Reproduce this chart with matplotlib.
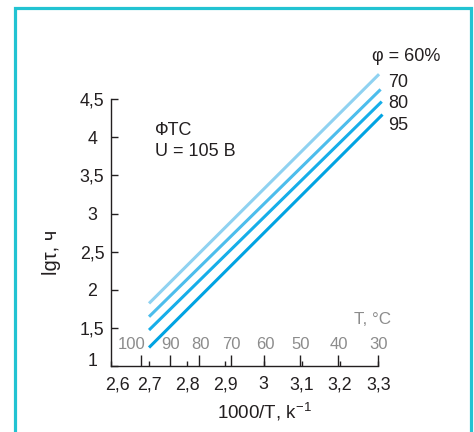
import matplotlib
matplotlib.use("Agg")
import matplotlib.pyplot as plt
import matplotlib.transforms as mtransforms
from matplotlib.patches import Rectangle

plt.rcParams["font.family"] = ["Liberation Sans", "DejaVu Sans"]
plt.rcParams["mathtext.fontset"] = "custom"
plt.rcParams["mathtext.rm"] = "Liberation Sans"
plt.rcParams["mathtext.it"] = "Liberation Sans"

# дані
inv_t_60 = [2.70, 3.302]
inv_t_70 = [2.70, 3.306]
inv_t_80 = [2.70, 3.309]
inv_t_95 = [2.70, 3.311]
lg_60 = [1.82, 4.83]
lg_70 = [1.645, 4.63]
lg_80 = [1.47, 4.47]
lg_95 = [1.24, 4.30]
curve_labels = ["φ = 60%", "70", "80", "95"]
label_x = [3.283, 3.326, 3.326, 3.326]
label_y = [5.064, 4.725, 4.449, 4.151]

x_ticks = [2.6, 2.7, 2.8, 2.9, 3.0, 3.1, 3.2, 3.3]
x_ticklabels = ["2,6", "2,7", "2,8", "2,9", "3", "3,1", "3,2", "3,3"]
y_ticks = [1, 1.5, 2, 2.5, 3, 3.5, 4, 4.5]
y_ticklabels = ["1", "1,5", "2", "2,5", "3", "3,5", "4", "4,5"]
t_celsius = [100, 90, 80, 70, 60, 50, 40, 30]

colors = ["#8fd2f1", "#4cbdec", "#16aee9", "#00a3e2"]
ink = "#231f20"
gray = "#8c8c8c"

fig = plt.figure(figsize=(4.74, 4.32), dpi=100)
ax = fig.add_axes([0.2338, 0.1532, 0.5643, 0.6169])

series = [(inv_t_60, lg_60), (inv_t_70, lg_70), (inv_t_80, lg_80), (inv_t_95, lg_95)]
for (xs, ys), c in zip(series, colors):
    ax.plot(xs, ys, color=c, lw=2.2, solid_capstyle="butt", clip_on=False)

ax.set_xlim(2.6, 3.3)
ax.set_ylim(1, 4.5)
for s in ["top", "right"]:
    ax.spines[s].set_visible(False)
for s in ["left", "bottom"]:
    ax.spines[s].set_color(ink)
    ax.spines[s].set_linewidth(1.0)

ax.set_xticks(x_ticks)
ax.set_xticklabels(x_ticklabels)
ax.set_yticks(y_ticks)
ax.set_yticklabels(y_ticklabels)
# довгі штрихи - температура в °C
ax.set_xticks([1000 / (t + 273.15) for t in t_celsius], minor=True)

ax.tick_params(axis="x", which="major", direction="in", length=3.8, width=1.0,
               color=ink, labelsize=12.8, labelcolor=ink, pad=7.5)
ax.tick_params(axis="x", which="minor", direction="in", length=7.7, width=1.0,
               color=ink)
ax.tick_params(axis="y", which="major", direction="in", length=5, width=1.0,
               color=ink, labelsize=12.8, labelcolor=ink, pad=13.5)
plt.setp(ax.get_yticklabels(), ha="center")

# зсуви крайніх підписів
lab26 = ax.get_xticklabels()[0]
lab26.set_transform(lab26.get_transform() +
                    mtransforms.ScaledTranslation(7 / 100, 0, fig.dpi_scale_trans))
lab1 = ax.get_yticklabels()[0]
lab1.set_transform(lab1.get_transform() +
                   mtransforms.ScaledTranslation(0, 6 / 100, fig.dpi_scale_trans))

for t in t_celsius:
    xx = 1000 / (t + 273.15)
    dx = -10 if t == 100 else 1
    ax.annotate(str(t), (xx, 1.286), xytext=(dx, 0), textcoords="offset pixels",
                ha="center", va="center", fontsize=12, color=gray)
ax.text(3.286, 1.608, "T, °C", ha="center", va="center", fontsize=12.3, color=gray)

for lab, xx, yy in zip(curve_labels, label_x, label_y):
    ax.text(xx, yy, lab, ha="left", va="center", fontsize=13, color=ink)

fig.text(0.327, 0.6975, "ФТС", ha="left", va="center", fontsize=13, color=ink)
fig.text(0.327, 0.649, "U = 105 В", ha="left", va="center", fontsize=13, color=ink)

fig.text(264 / 474, 1 - 411.7 / 432, "1000/T, k$^{\u2212 1}$", ha="center", va="center",
         fontsize=13.5, color=ink)
fig.text(51.7 / 474, 1 - 252.6 / 432, "lgτ, ч", ha="center", va="center",
         rotation=90, fontsize=14.5, color=ink)

# рамка
fig.add_artist(Rectangle((15 / 474, -0.05), 455.5 / 474, 0.05 + 1 - 8 / 432,
                         transform=fig.transFigure, fill=False,
                         edgecolor="#22c3d2", lw=2.3))

fig.savefig("out.png", dpi=100)
